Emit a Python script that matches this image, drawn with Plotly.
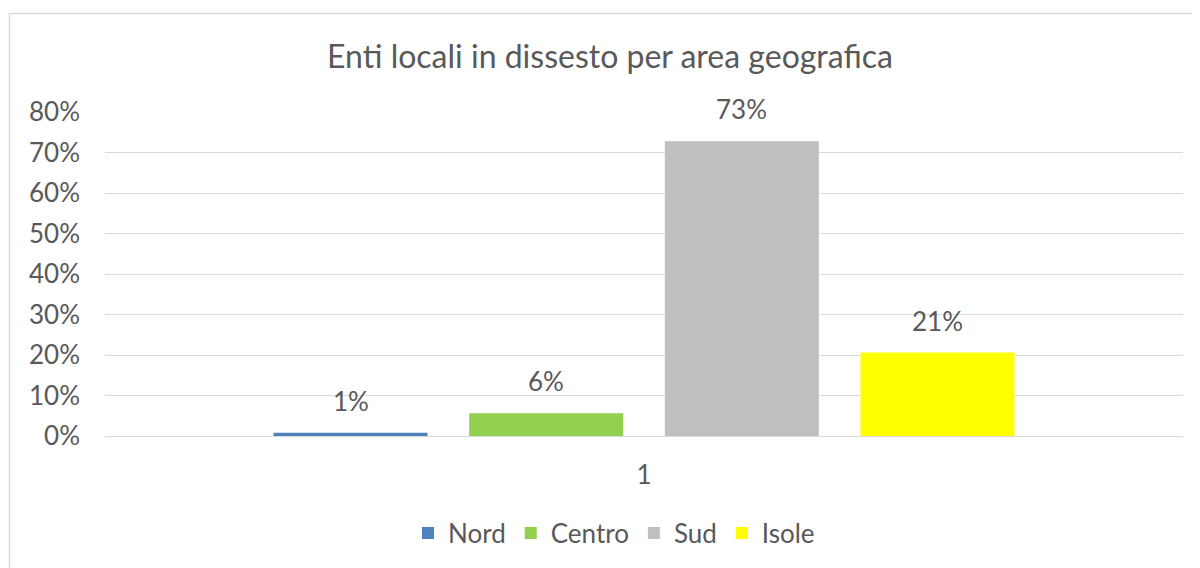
import plotly.graph_objects as go

# data
category = ["1"]
series = ["Nord", "Centro", "Sud", "Isole"]
values = [0.008, 0.056, 0.728, 0.206]
colors = ["#4F81BD", "#92D050", "#BFBFBF", "#FFFF00"]

text_color = "#595959"
grid_color = "#D9D9D9"
font_family = "Lato, Open Sans, sans-serif"
bar_gap = 0.274
bar_group_gap = 0.213

# the page body adds an 8px offset, so the layout is built 8px up/left
off = 8
plot_left, plot_right, plot_top, plot_bottom = 105 - off, 1183 - off, 112 - off, 436 - off
plot_h = plot_bottom - plot_top
plot_w = plot_right - plot_left

fig = go.Figure()
for name, val, col in zip(series, values, colors):
    fig.add_trace(
        go.Bar(
            x=category,
            y=[val],
            name=name,
            marker=dict(color=col, line=dict(width=0)),
            hoverinfo="name+y",
        )
    )

# data labels above each bar
slot = (1 - bar_gap) / len(series)
annotations = []
for i, val in enumerate(values):
    annotations.append(
        dict(
            x=(i - (len(series) - 1) / 2) * slot,
            y=val,
            xref="x",
            yref="y",
            text=f"{val:.0%}",
            showarrow=False,
            yanchor="middle",
            yshift=32,
            font=dict(size=26, color=text_color, family=font_family),
        )
    )

fig.update_layout(
    width=1200,
    height=568,
    barmode="group",
    bargap=bar_gap,
    bargroupgap=bar_group_gap,
    paper_bgcolor="white",
    plot_bgcolor="white",
    font=dict(family=font_family, color=text_color, size=26),
    margin=dict(l=plot_left, r=1200 - plot_right, t=plot_top, b=568 - plot_bottom),
    title=dict(
        text="Enti locali in dissesto per area geografica",
        x=(610 - off) / 1200,
        xref="container",
        xanchor="center",
        y=1 - (57 - off) / 568,
        yref="container",
        yanchor="middle",
        font=dict(size=32, color=text_color, family=font_family),
    ),
    xaxis=dict(
        showgrid=False,
        showline=False,
        ticks="",
        ticklabelstandoff=21,
        tickfont=dict(size=26, color=text_color),
    ),
    yaxis=dict(
        range=[0, 0.8],
        dtick=0.1,
        tickformat=".0%",
        showgrid=True,
        gridcolor=grid_color,
        gridwidth=1,
        zeroline=True,
        zerolinecolor=grid_color,
        zerolinewidth=1,
        showline=False,
        ticks="",
        ticklabelstandoff=24,
        tickfont=dict(size=26, color=text_color),
    ),
    legend=dict(
        orientation="h",
        x=(614 - off - plot_left) / plot_w,
        xanchor="center",
        y=(436 - 533) / plot_h,
        yanchor="middle",
        font=dict(size=26, color=text_color),
        traceorder="normal",
    ),
    annotations=annotations,
    shapes=[
        dict(
            type="rect",
            xref="paper",
            yref="paper",
            x0=(9.5 - 105) / plot_w,
            x1=1.1,
            y0=-0.6,
            y1=(436 - 13.5) / plot_h,
            line=dict(color=grid_color, width=1.5),
            fillcolor="rgba(0,0,0,0)",
            layer="below",
        )
    ],
)

fig.write_html("out.html")
